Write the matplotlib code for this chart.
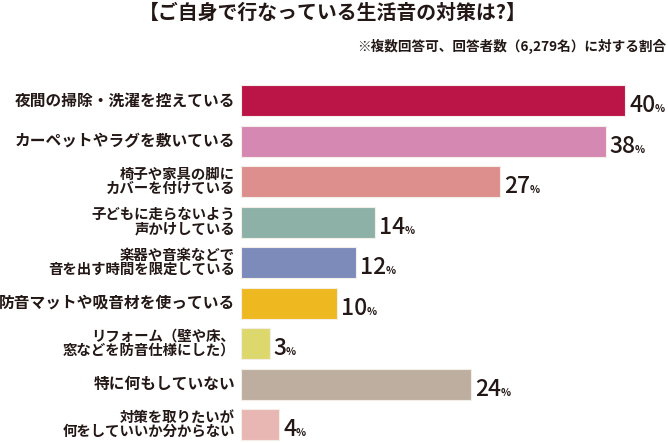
import matplotlib
matplotlib.use("Agg")
import matplotlib.pyplot as plt

plt.rcParams["font.family"] = ["Noto Sans CJK JP", "DejaVu Sans"]

# ---------------------------------------------------------
# DATA
# ---------------------------------------------------------

title = "【ご自身で行なっている生活音の対策は?】"
note = "※複数回答可、回答者数（6,279名）に対する割合"

categories = [
    "夜間の掃除・洗濯を控えている",
    "カーペットやラグを敷いている",
    "椅子や家具の脚に\nカバーを付けている",
    "子どもに走らないよう\n声かけしている",
    "楽器や音楽などで\n音を出す時間を限定している",
    "防音マットや吸音材を使っている",
    "リフォーム（壁や床、\n窓などを防音仕様にした）",
    "特に何もしていない",
    "対策を取りたいが\n何をしていいか分からない",
]
values = [40, 38, 27, 14, 12, 10, 3, 24, 4]
colors = [
    "#BB1548", "#D588B1", "#DC8F8C", "#8DB1A6", "#7D8BBB",
    "#EEB820", "#DCD86D", "#BDAEA0", "#E8B6B3",
]

text_color = "#231815"

# ---------------------------------------------------------
# LAYOUT (pixels of a 668x443 canvas)
# ---------------------------------------------------------

W, H = 668, 443
bar_left = 241
px_per_pct = 9.6
first_center = 100.5
step = 40.5

n = len(categories)
ax_top = first_center - step / 2
ax_bottom = ax_top + n * step
ax_right = W - 2
xmax = (ax_right - bar_left) / px_per_pct

fig = plt.figure(figsize=(W / 100, H / 100), dpi=100)
ax = fig.add_axes([
    bar_left / W,
    1 - ax_bottom / H,
    (ax_right - bar_left) / W,
    (ax_bottom - ax_top) / H,
])

pos = list(range(n))
ax.barh(pos, values, height=31 / step, color=colors,
        edgecolor="#f3eee8", linewidth=0.8)
ax.set_xlim(0, xmax)
ax.set_ylim(n - 0.5, -0.5)
ax.axis("off")

# category labels
for i, lab in enumerate(categories):
    size = 10.4 if "\n" in lab else 11.3
    ax.annotate(lab, xy=(0, i), xytext=(-6, 0), textcoords="offset pixels",
                ha="right", va="center", fontsize=size, fontweight="bold",
                color=text_color, linespacing=1.0, annotation_clip=False)

# value labels
nums = []
for i, v in enumerate(values):
    t = ax.annotate(str(v), xy=(v, i), xytext=(4, -11.5),
                    textcoords="offset pixels", ha="left", va="baseline",
                    fontsize=16.5, fontweight="medium", color=text_color,
                    annotation_clip=False)
    nums.append(t)

fig.canvas.draw()
renderer = fig.canvas.get_renderer()
for i, t in enumerate(nums):
    bb = t.get_window_extent(renderer)
    x0 = ax.transData.transform((values[i], i))[0]
    ax.annotate("%", xy=(values[i], i), xytext=(bb.x1 - x0 - 1, -11.5),
                textcoords="offset pixels", ha="left", va="baseline",
                fontsize=7.5, fontweight="bold", color=text_color,
                annotation_clip=False)

# title and note
fig.text(333 / W, 1 - 12 / H, title, ha="center", va="center",
         fontsize=14.3, fontweight="bold", color=text_color)
fig.text(666 / W, 1 - 46.5 / H, note, ha="right", va="center",
         fontsize=9.8, fontweight="bold", color=text_color)

fig.savefig("out.png", dpi=100)
plt.close(fig)
